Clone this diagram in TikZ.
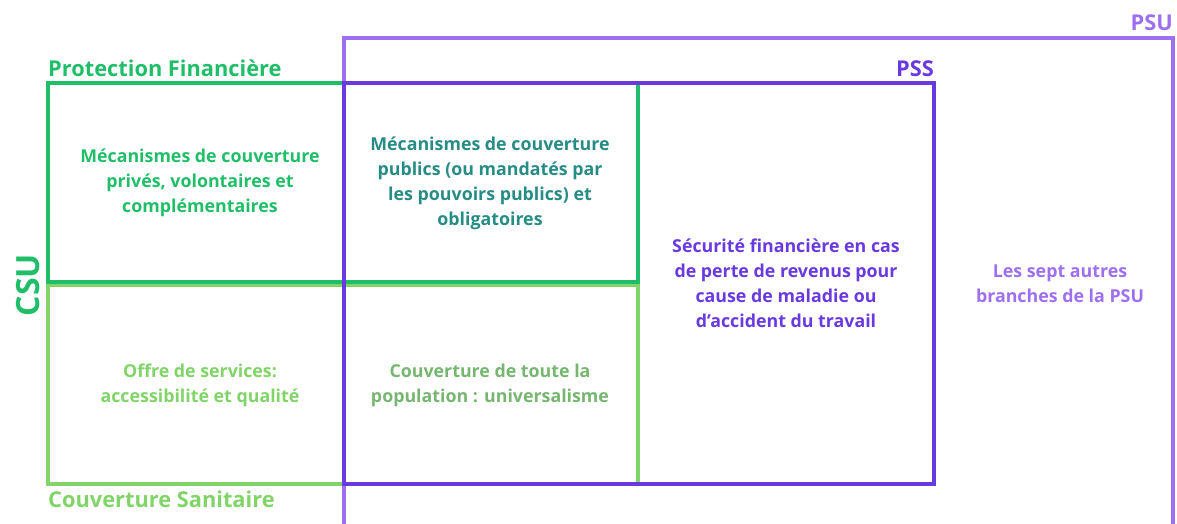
\documentclass[tikz,border=0pt]{standalone}
\usepackage{fontspec}
\setmainfont{Open Sans}
\definecolor{pfgreen}{RGB}{32,190,105}
\definecolor{csgreen}{RGB}{128,212,104}
\definecolor{pssviolet}{RGB}{104,58,224}
\definecolor{psuviolet}{RGB}{156,112,240}
\definecolor{tealtxt}{RGB}{38,140,132}
\definecolor{mixgreen}{RGB}{118,182,112}
\tikzset{
  frame/.style={line width=3.2pt},
  boxtxt/.style={align=center, font=\fontsize{17.8}{25}\selectfont\bfseries, inner sep=0pt},
  title/.style={font=\fontsize{21.8}{24}\selectfont\bfseries, inner sep=0pt},
}
\begin{document}
\begin{tikzpicture}[x=1pt,y=-1pt]
\useasboundingbox (0,0) rectangle (1177,524);
\clip (0,0) rectangle (1177,524);
% green frames
\draw[frame, csgreen] (48,285.5) rectangle (638,484);
\draw[frame, pfgreen] (48,83) rectangle (638,282);
% PSU and PSS
\draw[frame, psuviolet] (344,540) -- (344,38) -- (1173,38) -- (1173,540);
\draw[frame, pssviolet] (344,83) rectangle (934,484);
% labels
\node[title, pfgreen, anchor=base west] (pf) at (48,77) {Protection Financière};
\node[title, csgreen, anchor=base west] (cs) at (48,507) {Couverture Sanitaire};
\node[title, pssviolet, anchor=base east] (pss) at (934,77) {PSS};
\node[title, psuviolet, anchor=base east] (psu) at (1173,31) {PSU};
\node[font=\fontsize{32}{34}\selectfont\bfseries, pfgreen, rotate=90, inner sep=0pt] (csu) at (28,285) {CSU};
% box texts
\node[boxtxt, pfgreen] (t1) at (200,183) {Mécanismes de couverture\\privés, volontaires et\\complémentaires};
\node[boxtxt, tealtxt] (t2) at (490,183) {Mécanismes de couverture\\publics (ou mandatés par\\les pouvoirs publics) et\\obligatoires};
\node[boxtxt, csgreen] (t3) at (200,385) {Offre de services:\\accessibilité et qualité};
\node[boxtxt, mixgreen] (t4) at (490,385) {Couverture de toute la\\population : universalisme};
\node[boxtxt, pssviolet] (t5) at (786,283) {Sécurité financière en cas\\de perte de revenus pour\\cause de maladie ou\\d’accident du travail};
\node[boxtxt, psuviolet] (t6) at (1060,284) {Les sept autres\\branches de la PSU};
\end{tikzpicture}
\end{document}
